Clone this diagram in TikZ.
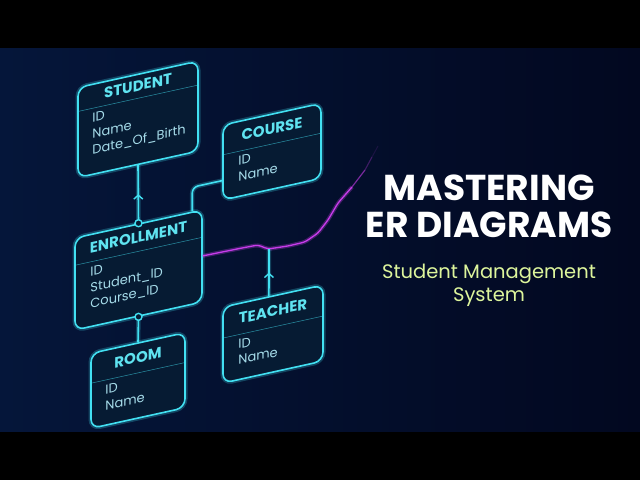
\documentclass[tikz,border=0pt]{standalone}
\usepackage{fontspec}
\setmainfont{Poppins}
\usetikzlibrary{arrows.meta,calc,decorations.markings,positioning}

\definecolor{neon}{HTML}{42E0F2}
\definecolor{neontext}{HTML}{5FE3F0}
\definecolor{attrtext}{HTML}{A6DCEA}
\definecolor{boxfill}{HTML}{061B33}
\definecolor{bgleft}{HTML}{05163A}
\definecolor{bgright}{HTML}{020820}
\definecolor{wire}{HTML}{C83CEB}
\definecolor{subtitle}{HTML}{DDF59C}

\begin{document}
\begin{tikzpicture}[
    x=1pt, y=-1pt,
    entity/.style={draw=neon, line width=1.6pt, rounded corners=9pt, fill=boxfill, inner sep=0pt,
        preaction={draw=neon, line width=5pt, opacity=0.25}, transform shape},
    headtext/.style={text=neontext, font=\fontsize{15}{18}\selectfont\bfseries, transform shape},
    attrs/.style={text=attrtext, font=\fontsize{13}{16}\selectfont, align=left, anchor=north west, inner sep=0pt, transform shape},
    divider/.style={draw=neon, line width=0.5pt, opacity=0.6},
    link/.style={draw=neon, line width=1.6pt, preaction={draw=neon, line width=4.5pt, opacity=0.25}},
    chevron/.style={postaction={decorate}, decoration={markings,
        mark=at position 0.5 with {\arrow[neon, line width=1.4pt]{Straight Barb[length=4pt, width=9pt]}}}},
    joint/.style={circle, draw=neon, line width=1.4pt, fill=boxfill, inner sep=0pt, minimum size=7pt},
    wireline/.style={draw=wire, line width=1.3pt, preaction={draw=wire, line width=4pt, opacity=0.3}},
    headline/.style={text=white, inner sep=0pt, font=\fontsize{36}{40}\selectfont\bfseries},
    tagline/.style={text=subtitle, inner sep=0pt, align=center, font=\fontsize{19.5}{23}\selectfont}
]
    \useasboundingbox (0,0) rectangle (640,480);
    \fill[black] (0,0) rectangle (640,480);
    \shade[left color=bgleft, right color=bgright] (0,48) rectangle (640,431);

    \begin{scope}[yslant=0.22]
        % entities
        \node[entity, minimum width=120pt, minimum height=90pt] (student) at (138,149.7) {};
        \draw[divider] ($(student.north west)!0.27!(student.south west)$) -- ($(student.north east)!0.27!(student.south east)$);
        \node[headtext] (studenthead) at ($(student.north)!0.135!(student.south)$) {STUDENT};
        \node[attrs] (studentattrs) at ($(student.north west)!0.27!(student.south west)+(15,5)$) {ID\\Name\\Date\_Of\_Birth};

        \node[entity, minimum width=98pt, minimum height=75pt] (course) at (272,211.5) {};
        \draw[divider] ($(course.north west)!0.4!(course.south west)$) -- ($(course.north east)!0.4!(course.south east)$);
        \node[headtext] (coursehead) at ($(course.north)!0.2!(course.south)$) {COURSE};
        \node[attrs] (courseattrs) at ($(course.north west)!0.4!(course.south west)+(16,5)$) {ID\\Name};

        \node[entity, minimum width=127pt, minimum height=92pt] (enrollment) at (138.5,300.5) {};
        \draw[divider] ($(enrollment.north west)!0.3!(enrollment.south west)$) -- ($(enrollment.north east)!0.3!(enrollment.south east)$);
        \node[headtext] (enrollmenthead) at ($(enrollment.north)!0.15!(enrollment.south)$) {ENROLLMENT};
        \node[attrs] (enrollmentattrs) at ($(enrollment.north west)!0.3!(enrollment.south west)+(16,5)$) {ID\\Student\_ID\\Course\_ID};

        \node[entity, minimum width=94pt, minimum height=75pt] (room) at (138,410.9) {};
        \draw[divider] ($(room.north west)!0.4!(room.south west)$) -- ($(room.north east)!0.4!(room.south east)$);
        \node[headtext] (roomhead) at ($(room.north)!0.2!(room.south)$) {ROOM};
        \node[attrs] (roomattrs) at ($(room.north west)!0.4!(room.south west)+(15,5)$) {ID\\Name};

        \node[entity, minimum width=100pt, minimum height=76pt] (teacher) at (273,394.1) {};
        \draw[divider] ($(teacher.north west)!0.41!(teacher.south west)$) -- ($(teacher.north east)!0.41!(teacher.south east)$);
        \node[headtext] (teacherhead) at ($(teacher.north)!0.205!(teacher.south)$) {TEACHER};
        \node[attrs] (teacherattrs) at ($(teacher.north west)!0.41!(teacher.south west)+(16,5)$) {ID\\Name};

        % relationships
        \draw[link, chevron] (enrollment.north) -- (student.south);
        \draw[link] (enrollment.south) -- (room.north);
        \path ($(course.west)!0.47!(course.south west)$) coordinate (coursein) ++(-30,0) coordinate (coursebend);
        \draw[link, rounded corners=6pt] (coursein) -- (coursebend) -- (coursebend |- enrollment.north east);
        \node[joint] (jointtop) at (enrollment.north) {};
        \node[joint] (jointbottom) at (enrollment.south) {};
    \end{scope}

    % glowing wire
    \draw[wireline, rounded corners=3pt] (enrollment.east) -- (242,248) -- (258,245) -- (268,249) -- (288,246)
        -- (305,242) -- (318,233) -- (328,220) -- (338,203) -- (352,187);
    \draw[wire, line width=1.2pt, opacity=0.6] (352,187) -- (365,170);
    \draw[wire, line width=1.1pt, opacity=0.3] (365,170) -- (372,157);
    \draw[wire, line width=1pt, opacity=0.12] (372,157) -- (378,146);
    \coordinate (wirejoin) at (269,249);
    \draw[link, chevron] ($(teacher.north west)!0.46!(teacher.north east)$) -- (wirejoin);

    % title
    \node[headline] (mastering) at (489,188) {MASTERING};
    \node[headline, below=11pt of mastering] (erdiagrams) {ER DIAGRAMS};
    \node[tagline, below=25pt of erdiagrams] (subtitle) {Student Management\\System};
\end{tikzpicture}
\end{document}
